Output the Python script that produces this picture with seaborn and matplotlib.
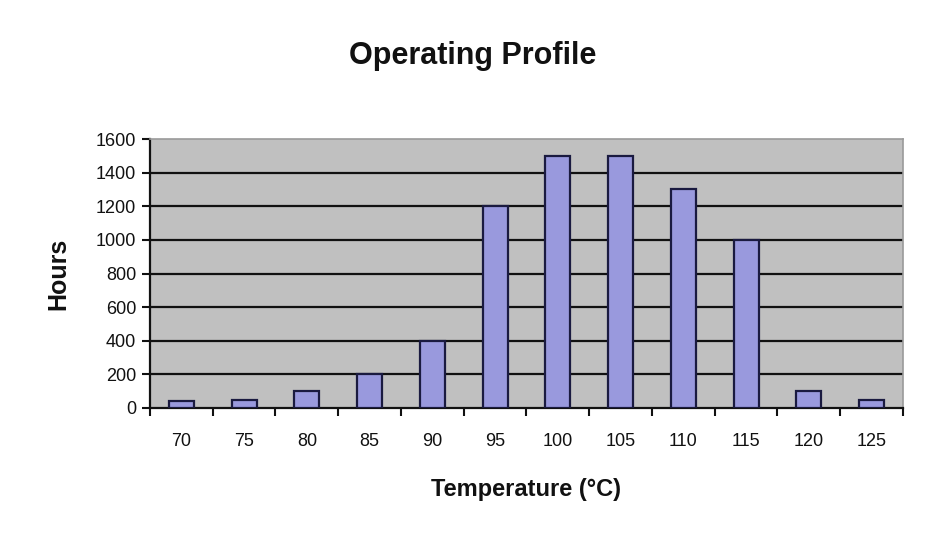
import matplotlib
matplotlib.use("Agg")
import matplotlib.pyplot as plt
import seaborn as sns
import pandas as pd
import numpy as np

temperatures = ["70", "75", "80", "85", "90", "95", "100", "105", "110", "115", "120", "125"]
hours = [40, 50, 100, 200, 400, 1200, 1500, 1500, 1300, 1000, 100, 50]
y_ticks = [0, 200, 400, 600, 800, 1000, 1200, 1400, 1600]

sns.set_style("white")
plt.rcParams['font.family'] = ['Liberation Sans', 'DejaVu Sans']
plt.rcParams['text.color'] = '#111111'
plt.rcParams['xtick.color'] = '#111111'
plt.rcParams['ytick.color'] = '#111111'
plt.rcParams['axes.labelcolor'] = '#111111'

df = pd.DataFrame({"Temperature": temperatures, "Hours": hours})

fig = plt.figure(figsize=(9.53, 5.38), dpi=100)
ax = fig.add_axes([150/953, 1-408/538, (903-150)/953, (408-139)/538])
ax.set_facecolor("#C0C0C0")

sns.barplot(data=df, x="Temperature", y="Hours", color="#9999DD", edgecolor="#1a1a40",
            linewidth=1.6, width=0.4, saturation=1, ax=ax, zorder=3)

ax.set_ylim(0, 1600)
ax.set_xlim(-0.5, len(temperatures) - 0.5)
ax.set_yticks(y_ticks)
ax.set_yticklabels([str(v) for v in y_ticks], fontsize=13)
for v in y_ticks[1:-1]:
    ax.axhline(v, color="#111111", linewidth=1.6, zorder=1)

ax.set_xticks(range(len(temperatures)))
ax.set_xticklabels(temperatures, fontsize=13)
ax.set_xticks(np.arange(-0.5, len(temperatures), 1.0), minor=True)
ax.tick_params(axis="x", which="major", bottom=False, length=0, pad=18)
ax.tick_params(axis="x", which="minor", bottom=True, length=6, width=1.5, color="#111111", direction="out")
ax.tick_params(axis="y", which="major", left=True, length=6, width=1.5, color="#111111", direction="out", pad=4)

for side in ["left", "bottom"]:
    ax.spines[side].set_color("#111111")
    ax.spines[side].set_linewidth(1.6)
for side in ["top", "right"]:
    ax.spines[side].set_color("#9a9a9a")
    ax.spines[side].set_linewidth(1.2)

ax.set_xlabel("Temperature (°C)", fontsize=17, fontweight="bold", labelpad=20)
ax.set_ylabel("Hours", fontsize=18, fontweight="bold", labelpad=18)
fig.text(473/953, 1-56/538, "Operating Profile", fontsize=22, fontweight="bold",
         ha="center", va="center")

fig.savefig("out.png", dpi=100)
